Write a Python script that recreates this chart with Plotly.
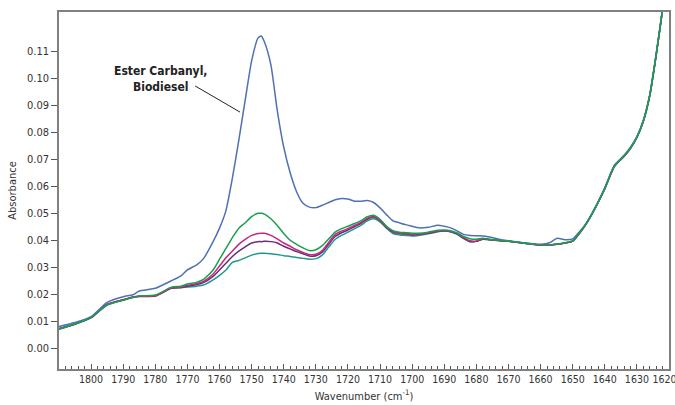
import plotly.graph_objects as go

wavenumber = [1810, 1805, 1800, 1795, 1790, 1787, 1785, 1780, 1775, 1772, 1770, 1767, 1765, 1762,
              1760, 1758, 1756, 1754, 1752, 1750, 1748, 1747, 1746, 1744, 1742, 1740, 1738, 1736,
              1734, 1732, 1730, 1728, 1726, 1724, 1722, 1720, 1718, 1716, 1714, 1712, 1710, 1708,
              1706, 1704, 1702, 1700, 1698, 1695, 1692, 1690, 1688, 1686, 1684, 1682, 1680, 1678,
              1676, 1673, 1670, 1665, 1660, 1657, 1655, 1652, 1650, 1648, 1646, 1644, 1642, 1640,
              1637, 1634, 1632, 1630, 1628, 1626, 1624, 1622, 1620]

biodiesel = [0.0080, 0.0095, 0.0117, 0.0170, 0.0191, 0.0198, 0.0212, 0.0222, 0.0250, 0.0268, 0.0290,
             0.0310, 0.0332, 0.0395, 0.0445, 0.0510, 0.0630, 0.0770, 0.0920, 0.1065, 0.1150, 0.1157,
             0.1135, 0.1050, 0.0880, 0.0745, 0.0650, 0.0580, 0.0537, 0.0523, 0.0521, 0.0530, 0.0540,
             0.0550, 0.0555, 0.0553, 0.0545, 0.0545, 0.0547, 0.0540, 0.0520, 0.0495, 0.0472, 0.0465,
             0.0458, 0.0452, 0.0446, 0.0448, 0.0456, 0.0452, 0.0446, 0.0435, 0.0422, 0.0418, 0.0417,
             0.0416, 0.0412, 0.0404, 0.0398, 0.0390, 0.0385, 0.0392, 0.0407, 0.0402, 0.0405, 0.0430,
             0.0460, 0.0500, 0.0545, 0.0595, 0.0679, 0.0715, 0.0745, 0.0785, 0.0845, 0.0940, 0.1090,
             0.1260, 0.1450]

sample_green = [0.0071, 0.0090, 0.0115, 0.0160, 0.0178, 0.0188, 0.0194, 0.0197, 0.0226, 0.0230, 0.0238,
                0.0245, 0.0255, 0.0290, 0.0330, 0.0370, 0.0410, 0.0445, 0.0465, 0.0488, 0.0500, 0.0500,
                0.0497, 0.0480, 0.0455, 0.0425, 0.0400, 0.0385, 0.0372, 0.0362, 0.0365, 0.0380, 0.0405,
                0.0430, 0.0443, 0.0452, 0.0462, 0.0472, 0.0487, 0.0493, 0.0478, 0.0452, 0.0436, 0.0430,
                0.0428, 0.0426, 0.0426, 0.0430, 0.0437, 0.0438, 0.0435, 0.0427, 0.0414, 0.0406, 0.0404,
                0.0408, 0.0404, 0.0400, 0.0397, 0.0390, 0.0383, 0.0383, 0.0386, 0.0392, 0.0398, 0.0425,
                0.0458, 0.0498, 0.0543, 0.0592, 0.0675, 0.0712, 0.0742, 0.0782, 0.0842, 0.0937, 0.1087,
                0.1257, 0.1447]

sample_magenta = [0.0072, 0.0090, 0.0114, 0.0162, 0.0180, 0.0190, 0.0193, 0.0194, 0.0223, 0.0227, 0.0233,
                  0.0240, 0.0248, 0.0275, 0.0305, 0.0335, 0.0360, 0.0385, 0.0403, 0.0418, 0.0425, 0.0426,
                  0.0426, 0.0418, 0.0405, 0.0390, 0.0378, 0.0365, 0.0355, 0.0347, 0.0348, 0.0362, 0.0392,
                  0.0422, 0.0434, 0.0443, 0.0455, 0.0466, 0.0481, 0.0488, 0.0474, 0.0450, 0.0432, 0.0427,
                  0.0425, 0.0422, 0.0423, 0.0428, 0.0434, 0.0436, 0.0433, 0.0425, 0.0410, 0.0398, 0.0397,
                  0.0405, 0.0403, 0.0399, 0.0396, 0.0389, 0.0382, 0.0382, 0.0385, 0.0391, 0.0397, 0.0424,
                  0.0457, 0.0497, 0.0542, 0.0591, 0.0674, 0.0711, 0.0741, 0.0781, 0.0841, 0.0936, 0.1086,
                  0.1256, 0.1446]

sample_purple = [0.0073, 0.0090, 0.0114, 0.0162, 0.0179, 0.0189, 0.0192, 0.0193, 0.0222, 0.0225, 0.0230,
                 0.0236, 0.0243, 0.0266, 0.0290, 0.0315, 0.0340, 0.0360, 0.0376, 0.0390, 0.0395, 0.0395,
                 0.0396, 0.0395, 0.0390, 0.0378, 0.0368, 0.0358, 0.0350, 0.0342, 0.0343, 0.0356, 0.0385,
                 0.0414, 0.0428, 0.0438, 0.0450, 0.0462, 0.0478, 0.0486, 0.0472, 0.0448, 0.0430, 0.0425,
                 0.0423, 0.0420, 0.0421, 0.0426, 0.0433, 0.0435, 0.0432, 0.0424, 0.0408, 0.0396, 0.0396,
                 0.0404, 0.0402, 0.0399, 0.0396, 0.0389, 0.0382, 0.0382, 0.0385, 0.0391, 0.0397, 0.0424,
                 0.0457, 0.0497, 0.0542, 0.0591, 0.0674, 0.0711, 0.0741, 0.0781, 0.0841, 0.0936, 0.1086,
                 0.1256, 0.1446]

sample_teal = [0.0070, 0.0089, 0.0113, 0.0161, 0.0179, 0.0189, 0.0193, 0.0195, 0.0223, 0.0224, 0.0227,
               0.0230, 0.0234, 0.0253, 0.0270, 0.0290, 0.0318, 0.0325, 0.0335, 0.0345, 0.0351, 0.0352,
               0.0352, 0.0350, 0.0347, 0.0343, 0.0340, 0.0336, 0.0333, 0.0330, 0.0332, 0.0345, 0.0375,
               0.0403, 0.0418, 0.0430, 0.0442, 0.0455, 0.0472, 0.0480, 0.0468, 0.0445, 0.0425, 0.0420,
               0.0418, 0.0416, 0.0418, 0.0424, 0.0432, 0.0434, 0.0432, 0.0422, 0.0406, 0.0394, 0.0396,
               0.0404, 0.0402, 0.0399, 0.0396, 0.0389, 0.0382, 0.0382, 0.0385, 0.0391, 0.0397, 0.0424,
               0.0457, 0.0497, 0.0542, 0.0591, 0.0674, 0.0711, 0.0741, 0.0781, 0.0841, 0.0936, 0.1086,
               0.1256, 0.1446]

series = [
    ("Teal", sample_teal, "#1f9a8a"),
    ("Purple", sample_purple, "#6b2a7c"),
    ("Magenta", sample_magenta, "#c8267c"),
    ("Biodiesel", biodiesel, "#4f70b5"),
    ("Green", sample_green, "#17a04a"),
]

x_ticks = list(range(1800, 1619, -10))
x_tick_labels = [str(v) for v in x_ticks]
y_ticks = [round(i * 0.01, 2) for i in range(12)]

FONT = "DejaVu Sans Condensed, Liberation Sans Narrow, Roboto, sans-serif"

fig = go.Figure()
for name, vals, color in series:
    fig.add_trace(go.Scatter(x=wavenumber, y=vals, mode="lines", name=name,
                             line=dict(color=color, width=1.5, shape="spline", smoothing=0.6),
                             showlegend=False))

fig.add_annotation(x=1778.5, y=0.0996, xref="x", yref="y",
                   text="<b>Ester Carbanyl,</b><br><b>Biodiesel</b>", showarrow=False,
                   align="center", font=dict(family=FONT, size=12, color="#222"))
fig.add_shape(type="line", xref="x", yref="y", x0=1767.6, y0=0.0972, x1=1753.6, y1=0.0875,
              line=dict(color="#222", width=1))

# keep the last (edge) label inside the page, as in the reference
ticktext = x_tick_labels[:-1] + [x_tick_labels[-1] + "\u00a0\u00a0\u00a0"]

fig.update_layout(
    width=675, height=405,
    margin=dict(l=59, r=6, t=12, b=36),
    plot_bgcolor="white", paper_bgcolor="white",
    font=dict(family=FONT, size=11, color="#333"),
    xaxis=dict(range=[1810, 1620], tickvals=x_ticks, ticktext=ticktext,
               ticks="inside", ticklen=5, tickcolor="#555", tickwidth=1,
               minor=dict(dtick=2, ticks="inside", ticklen=3, tickcolor="#555", tickwidth=1),
               showline=True, linecolor="#808080", linewidth=1.5, mirror=True,
               showgrid=False, zeroline=False, automargin=False, ticklabeloverflow="allow",
               title=dict(text="Wavenumber (cm<sup>-1</sup>)", font=dict(size=11, family=FONT),
                          standoff=8),
               tickfont=dict(size=10.5, family=FONT, color="#333")),
    yaxis=dict(range=[-0.0077, 0.1246], tickvals=y_ticks, tickformat=".2f",
               ticks="outside", ticklen=6, tickcolor="#555", tickwidth=1,
               showline=True, linecolor="#808080", linewidth=1.5, mirror=True,
               showgrid=False, zeroline=False, automargin=False,
               title=dict(text="Absorbance", font=dict(size=11, family=FONT), standoff=8),
               tickfont=dict(size=11, family=FONT, color="#333")),
)

fig.write_html("out.html", config={"displayModeBar": False},
               post_script="document.body.style.margin='0';")
